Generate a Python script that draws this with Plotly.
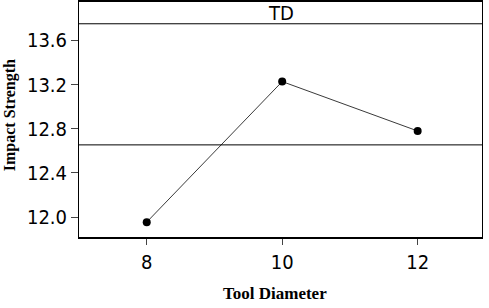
import plotly.graph_objects as go

tool_diameter = [8, 10, 12]
impact_strength = [11.955, 13.227, 12.78]
y_ticks = [12.0, 12.4, 12.8, 13.2, 13.6]
x_ticks = [8, 10, 12]
panel_title = "TD"
x_title = "Tool Diameter"
y_title = "Impact Strength"

mean_val = sum(impact_strength) / len(impact_strength)

TICK_FONT = "DejaVu Sans Condensed, Tahoma, Liberation Sans, sans-serif"
TITLE_FONT = "Liberation Serif, Times New Roman, serif"

fig = go.Figure()
fig.add_trace(go.Scatter(
    x=tool_diameter, y=impact_strength, mode="lines+markers",
    line=dict(color="#3a3a3a", width=1),
    marker=dict(color="black", size=8),
    showlegend=False, hoverinfo="skip"))

# reference (grand mean) line
fig.add_shape(type="line", xref="paper", x0=0, x1=1, yref="y", y0=mean_val, y1=mean_val,
              line=dict(color="black", width=1))
# header strip separator
header_y = 13.75
fig.add_shape(type="line", xref="paper", x0=0, x1=1, yref="y", y0=header_y, y1=header_y,
              line=dict(color="black", width=1))
fig.add_annotation(text=panel_title, xref="paper", x=0.5, yref="y", y=13.85,
                   showarrow=False, font=dict(family=TICK_FONT, size=20, color="black"),
                   xanchor="center", yanchor="middle")

# axis titles
fig.add_annotation(text="<b>" + x_title + "</b>", xref="paper", yref="paper",
                   x=0.486, y=-0.2405, xanchor="center", yanchor="middle", showarrow=False,
                   font=dict(family=TITLE_FONT, size=17, color="black"))
fig.add_annotation(text="<b>" + y_title + "</b>", xref="paper", yref="paper",
                   x=-0.172, y=0.517, xanchor="center", yanchor="middle", showarrow=False,
                   textangle=-90, font=dict(family=TITLE_FONT, size=16, color="black"))

fig.update_layout(
    width=489, height=308,
    margin=dict(l=79, r=7, t=0, b=71),
    paper_bgcolor="white", plot_bgcolor="white",
    font=dict(family=TICK_FONT, size=20, color="black"),
    xaxis=dict(range=[7.0, 12.95], tickvals=x_ticks, ticktext=[str(v) for v in x_ticks],
               showgrid=False, zeroline=False, showline=True, linecolor="black", linewidth=1.5,
               mirror=True, ticks="outside", ticklen=6, tickcolor="#444", tickwidth=1),
    yaxis=dict(range=[11.8205, 13.947], tickvals=y_ticks, ticktext=["%.1f" % v for v in y_ticks],
               showgrid=False, zeroline=False, showline=True, linecolor="black", linewidth=1,
               mirror=True, ticks="outside", ticklen=7, tickcolor="#444", tickwidth=1),
)

fig.write_html("out.html")
